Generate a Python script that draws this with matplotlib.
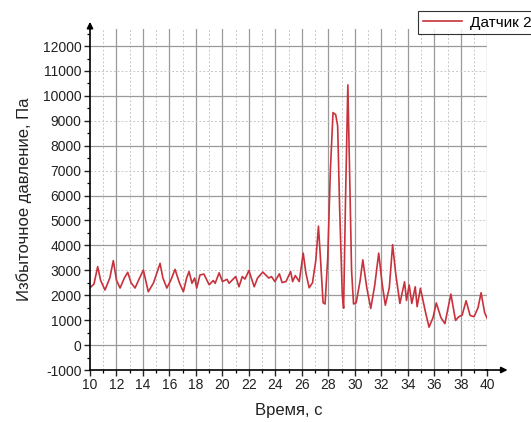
import numpy as np
import matplotlib
matplotlib.use("Agg")
import matplotlib.pyplot as plt
from matplotlib.ticker import MultipleLocator

plt.rcParams['font.family'] = ['Liberation Sans', 'DejaVu Sans']
plt.rcParams['axes.unicode_minus'] = False

# датчик 2: время, с / избыточное давление, Па
t = [10.0, 10.3, 10.58, 10.8, 11.13, 11.5, 11.76, 12.0, 12.27, 12.6, 12.85, 13.1,
     13.4, 13.75, 14.03, 14.4, 14.8, 15.29, 15.5, 15.8, 16.1, 16.42, 16.75, 17.05,
     17.3, 17.48, 17.7, 17.9, 18.06, 18.3, 18.6, 19.0, 19.3, 19.45, 19.75, 20.0,
     20.35, 20.5, 21.0, 21.25, 21.5, 21.7, 22.0, 22.4, 22.65, 23.05, 23.5, 23.7,
     23.96, 24.3, 24.5, 24.8, 25.15, 25.3, 25.5, 25.8, 26.1, 26.3, 26.55, 26.8,
     27.05, 27.25, 27.4, 27.6, 27.75, 27.95, 28.15, 28.35, 28.55, 28.7, 28.85,
     29.05, 29.15, 29.3, 29.47, 29.6, 29.75, 29.9, 30.1, 30.4, 30.6, 30.9, 31.2,
     31.5, 31.8, 32.05, 32.3, 32.6, 32.85, 33.1, 33.4, 33.75, 33.9, 34.1, 34.3,
     34.56, 34.7, 34.95, 35.3, 35.6, 35.9, 36.15, 36.5, 36.8, 37.25, 37.6, 37.85,
     38.1, 38.4, 38.7, 39.0, 39.3, 39.53, 39.8, 40.0]
p = [2300, 2450, 3150, 2600, 2210, 2700, 3390, 2600, 2290, 2700, 2920, 2500,
     2290, 2700, 3010, 2140, 2500, 3280, 2700, 2290, 2600, 3040, 2500, 2140,
     2700, 2950, 2480, 2690, 2290, 2810, 2850, 2420, 2590, 2480, 2900, 2550,
     2640, 2480, 2750, 2340, 2750, 2650, 2990, 2340, 2690, 2930, 2690, 2750,
     2550, 2860, 2510, 2550, 2950, 2550, 2790, 2550, 3690, 2900, 2300, 2500,
     3400, 4770, 3500, 1700, 1650, 3500, 7000, 9330, 9250, 8800, 5500,
     2000, 1480, 6000, 10440, 7000, 3000, 1650, 1700, 2600, 3420, 2300, 1470,
     2400, 3690, 2500, 1600, 2300, 4030, 2800, 1670, 2540, 1790, 2410, 1670,
     2340, 1540, 2280, 1400, 720, 1100, 1690, 1100, 860, 2050, 990, 1140,
     1200, 1780, 1190, 1140, 1500, 2100, 1300, 1060]

fig = plt.figure(figsize=(5.31, 4.22), dpi=100)
ax = fig.add_axes([0.1695, 0.1232, 0.7482, 0.809])

ax.plot(t, p, color="#c8323c", lw=1.2, label="Датчик 2")

ax.set_xlim(10, 40)
ax.set_ylim(-1000, 12700)
ax.xaxis.set_major_locator(MultipleLocator(2))
ax.xaxis.set_minor_locator(MultipleLocator(1))
ax.yaxis.set_major_locator(MultipleLocator(1000))
ax.yaxis.set_minor_locator(MultipleLocator(500))

# сетка: сплошные линии на чётных значениях, пунктир на нечётных
for x in range(12, 41, 2):
    ax.axvline(x, color="#9a9a9a", lw=0.9, zorder=0)
for x in range(11, 40, 2):
    ax.axvline(x, color="#c8c8c8", lw=0.7, ls=(0, (2, 2)), zorder=0)
for y in range(0, 12001, 2000):
    ax.axhline(y, color="#9a9a9a", lw=0.9, zorder=0)
for y in range(-1000, 12001, 2000):
    ax.axhline(y, color="#c8c8c8", lw=0.7, ls=(0, (2, 2)), zorder=0)

for s in ["top", "right"]:
    ax.spines[s].set_visible(False)
for s in ["left", "bottom"]:
    ax.spines[s].set_linewidth(1.2)

# стрелки на концах осей
ax.annotate("", xy=(1.058, 0), xytext=(0.99, 0), xycoords="axes fraction",
            arrowprops=dict(arrowstyle="-|>", color="black", lw=1.2, mutation_scale=9),
            annotation_clip=False)
ax.annotate("", xy=(0, 1.028), xytext=(0, 0.99), xycoords="axes fraction",
            arrowprops=dict(arrowstyle="-|>", color="black", lw=1.2, mutation_scale=9),
            annotation_clip=False)

ax.tick_params(which="major", direction="out", length=4, width=1.0, labelsize=10,
               colors="#222222", pad=2)
ax.tick_params(which="minor", direction="out", length=2.5, width=0.9)

ax.set_xlabel("Время, с", fontsize=12, color="#222222", labelpad=8)
ax.set_ylabel("Избыточное давление, Па", fontsize=12, color="#222222", labelpad=8)

leg = ax.legend(loc="upper left", bbox_to_anchor=(418 / 531, 1 - 11 / 422),
                bbox_transform=fig.transFigure, fontsize=11, frameon=True,
                fancybox=False, borderpad=0.3, handlelength=2.6, handletextpad=0.5,
                borderaxespad=0)
leg.get_frame().set_edgecolor("black")
leg.get_frame().set_linewidth(0.8)

fig.savefig("out.png", dpi=100)
